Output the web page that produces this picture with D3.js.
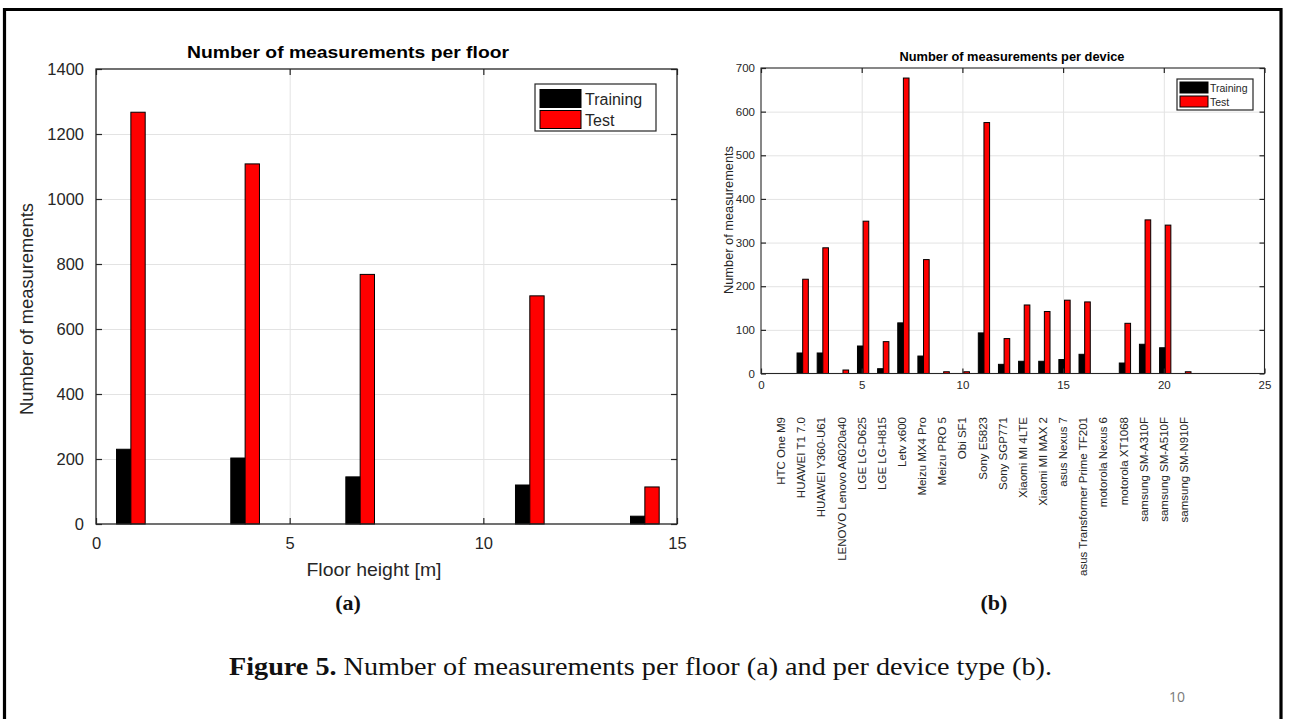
<!DOCTYPE html>
<html><head><meta charset="utf-8">
<script src="https://cdn.jsdelivr.net/npm/d3@7/dist/d3.min.js"></script>
<style>body{margin:0;background:#fff;overflow:hidden} svg{display:block}</style>
</head><body>
<svg id="c" width="1290" height="719"></svg>
<script>
// ---------- data ----------
const seriesNames = ["Training", "Test"];
const seriesColors = ["#000000", "#ff0000"];

// (a) per floor
const floorHeights = [0.9, 3.85, 6.82, 11.2, 14.17];
const floorTraining = [230, 203, 145, 120, 24];
const floorTest = [1267, 1108, 768, 702, 114];
const floorXTicks = [0, 5, 10, 15];
const floorYTicks = [0, 200, 400, 600, 800, 1000, 1200, 1400];

// (b) per device
const devices = ["HTC One M9", "HUAWEI T1 7.0", "HUAWEI Y360-U61", "LENOVO Lenovo A6020a40",
  "LGE LG-D625", "LGE LG-H815", "Letv x600", "Meizu MX4 Pro", "Meizu PRO 5", "Obi SF1",
  "Sony E5823", "Sony SGP771", "Xiaomi MI 4LTE", "Xiaomi MI MAX 2", "asus Nexus 7",
  "asus Transformer Prime TF201", "motorola Nexus 6", "motorola XT1068",
  "samsung SM-A310F", "samsung SM-A510F", "samsung SM-N910F"];
const deviceTraining = [0, 47, 47, 0, 63, 11, 116, 40, 0, 0, 93, 21, 28, 28, 32, 44, 0, 24, 67, 59, 0];
const deviceTest = [0, 216, 288, 8, 349, 73, 677, 261, 4, 4, 575, 80, 157, 142, 168, 164, 0, 115, 352, 340, 4];
const deviceXTicks = [0, 5, 10, 15, 20, 25];
const deviceYTicks = [0, 100, 200, 300, 400, 500, 600, 700];

// ---------- drawing ----------
const svg = d3.select("#c");
const SANS = "'Liberation Sans', Arial, sans-serif";
const SERIF = "'Liberation Serif', 'Times New Roman', serif";
const AX = "#262626";
function fit(t, w) { t.attr("textLength", w).attr("lengthAdjust", "spacingAndGlyphs"); return t; }
const fmt = d3.format("d");

// page frame
svg.append("path").attr("d", "M4.5,719 V9.5 H1281 V719").attr("fill", "none")
  .attr("stroke", "#000").attr("stroke-width", 3.2);

function panel(o) {
  const g = svg.append("g");
  const x = d3.scaleLinear().domain(o.xDomain).range([o.x0, o.x1]);
  const y = d3.scaleLinear().domain(o.yDomain).range([o.y1, o.y0]);
  const H = o.y1 - o.y0, W = o.x1 - o.x0;
  // grid
  const gx = g.append("g").attr("transform", `translate(0,${o.y1})`)
    .call(d3.axisBottom(x).tickValues(o.xTicks.slice(1, -1)).tickSize(-H).tickFormat(""));
  const gy = g.append("g").attr("transform", `translate(${o.x0},0)`)
    .call(d3.axisLeft(y).tickValues(o.yTicks.slice(1, -1)).tickSize(-W).tickFormat(""));
  [gx, gy].forEach(s => { s.select(".domain").remove(); s.selectAll("line").attr("stroke", "#e3e3e3").attr("stroke-width", 1); });
  // bars
  const series = [o.train, o.test];
  series.forEach((vals, si) => {
    g.append("g").selectAll("rect").data(vals.map((v, i) => ({ v, p: o.pos[i] })))
      .join("rect")
      .filter(d => d.v > 0)
      .attr("x", d => x(si === 0 ? d.p - o.bw : d.p))
      .attr("width", d => x(d.p + o.bw) - x(d.p))
      .attr("y", d => y(d.v))
      .attr("height", d => y(0) - y(d.v))
      .attr("fill", seriesColors[si]).attr("stroke", "#000").attr("stroke-width", 1);
  });
  // axes with inward ticks
  const tl = o.tick;
  const styleAx = (s, fs) => {
    s.select(".domain").remove();
    s.selectAll("line").attr("stroke", AX).attr("stroke-width", 1.2);
    s.selectAll("text").attr("fill", AX).style("font-family", SANS).style("font-size", fs + "px");
  };
  const bx = g.append("g").attr("transform", `translate(0,${o.y1})`)
    .call(d3.axisBottom(x).tickValues(o.xTicks).tickFormat(fmt).tickSize(-tl).tickPadding(o.xPad));
  styleAx(bx, o.fs);
  const ly = g.append("g").attr("transform", `translate(${o.x0},0)`)
    .call(d3.axisLeft(y).tickValues(o.yTicks).tickFormat(fmt).tickSize(-tl).tickPadding(o.yPad));
  styleAx(ly, o.fs);
  const tx = g.append("g").attr("transform", `translate(0,${o.y0})`)
    .call(d3.axisTop(x).tickValues(o.xTicks).tickSize(-tl).tickFormat(""));
  styleAx(tx, o.fs);
  const ry = g.append("g").attr("transform", `translate(${o.x1},0)`)
    .call(d3.axisRight(y).tickValues(o.yTicks).tickSize(-tl).tickFormat(""));
  styleAx(ry, o.fs);
  g.append("rect").attr("x", o.x0).attr("y", o.y0).attr("width", W).attr("height", H)
    .attr("fill", "none").attr("stroke", AX).attr("stroke-width", o.boxW);
  // title
  fit(g.append("text").attr("x", o.titleX).attr("y", o.titleY).attr("text-anchor", "middle")
    .style("font-family", SANS).style("font-weight", "bold").style("font-size", o.titleFs + "px")
    .attr("fill", "#000").text(o.title), o.titleW);
  // y label
  fit(g.append("text").attr("transform", `translate(${o.ylX},${o.ylY}) rotate(-90)`)
    .attr("text-anchor", "middle").style("font-family", SANS).style("font-size", o.ylFs + "px")
    .attr("fill", AX).text("Number of measurements"), o.ylW);
  // legend
  const L = o.leg;
  g.append("rect").attr("x", L.x).attr("y", L.y).attr("width", L.w).attr("height", L.h)
    .attr("fill", "#fff").attr("stroke", AX).attr("stroke-width", 1.2);
  seriesNames.forEach((n, i) => {
    g.append("rect").attr("x", L.sx).attr("y", L.sy[i]).attr("width", L.sw).attr("height", L.sh)
      .attr("fill", seriesColors[i]).attr("stroke", "#000").attr("stroke-width", 1);
    g.append("text").attr("x", L.tx).attr("y", L.ty[i]).style("font-family", SANS)
      .style("font-size", L.fs + "px").attr("fill", AX).text(n);
  });
  return { g, x, y };
}

// panel (a)
const pa = panel({
  x0: 96, x1: 677, y0: 69, y1: 524,
  xDomain: [0, 15], yDomain: [0, 1400], xTicks: floorXTicks, yTicks: floorYTicks,
  pos: floorHeights, train: floorTraining, test: floorTest, bw: 0.37,
  tick: 6, fs: 16.5, xPad: 13, yPad: 12, boxW: 1.3,
  title: "Number of measurements per floor", titleX: 348, titleY: 58, titleFs: 17, titleW: 322,
  ylX: 33, ylY: 309, ylFs: 18.5, ylW: 212,
  leg: { x: 535, y: 84, w: 121, h: 47, sx: 540, sy: [89.5, 110.5], sw: 41, sh: 18, tx: 585, ty: [105, 126], fs: 16 }
});
fit(pa.g.append("text").attr("x", 374).attr("y", 576).attr("text-anchor", "middle")
  .style("font-family", SANS).style("font-size", "18.5px").attr("fill", AX)
  .text("Floor height [m]"), 135);

// panel (b)
const pb = panel({
  x0: 761, x1: 1264.5, y0: 68, y1: 373.5,
  xDomain: [0, 25], yDomain: [0, 700], xTicks: deviceXTicks, yTicks: deviceYTicks,
  pos: devices.map((d, i) => i + 1.07), train: deviceTraining, test: deviceTest, bw: 0.28,
  tick: 5, fs: 11.5, xPad: 7, yPad: 6, boxW: 1.1,
  title: "Number of measurements per device", titleX: 1012, titleY: 61, titleFs: 12.5, titleW: 225,
  ylX: 733, ylY: 220, ylFs: 12, ylW: 148,
  leg: { x: 1177, y: 79, w: 76, h: 31, sx: 1180, sy: [82, 96], sw: 28, sh: 11, tx: 1210, ty: [92, 106], fs: 10.5 }
});
pb.g.append("g").selectAll("text").data(devices).join("text")
  .attr("transform", (d, i) => `translate(${pb.x(i + 1)},417) rotate(-90)`)
  .attr("dy", "0.35em").attr("text-anchor", "end")
  .style("font-family", SANS).style("font-size", "11.5px").attr("fill", AX).text(d => d);

// sub-captions
[["(a)", 348], ["(b)", 994]].forEach(([t, xx]) => {
  svg.append("text").attr("x", xx).attr("y", 610).attr("text-anchor", "middle")
    .style("font-family", SERIF).style("font-weight", "bold").style("font-size", "22px")
    .attr("fill", "#111").text(t);
});
// figure caption
const cap = svg.append("text").attr("x", 229).attr("y", 675)
  .style("font-family", SERIF).style("font-size", "24.5px").attr("fill", "#111");
cap.append("tspan").style("font-weight", "bold").text("Figure 5.");
cap.append("tspan").text(" Number of measurements per floor (a) and per device type (b).");
fit(cap, 823);
// page number
svg.append("text").attr("x", 1177).attr("y", 702).attr("text-anchor", "middle")
  .style("font-family", "'Open Sans', sans-serif").style("font-size", "14px").attr("fill", "#7a7a7a").text("10");
</script>
</body></html>
